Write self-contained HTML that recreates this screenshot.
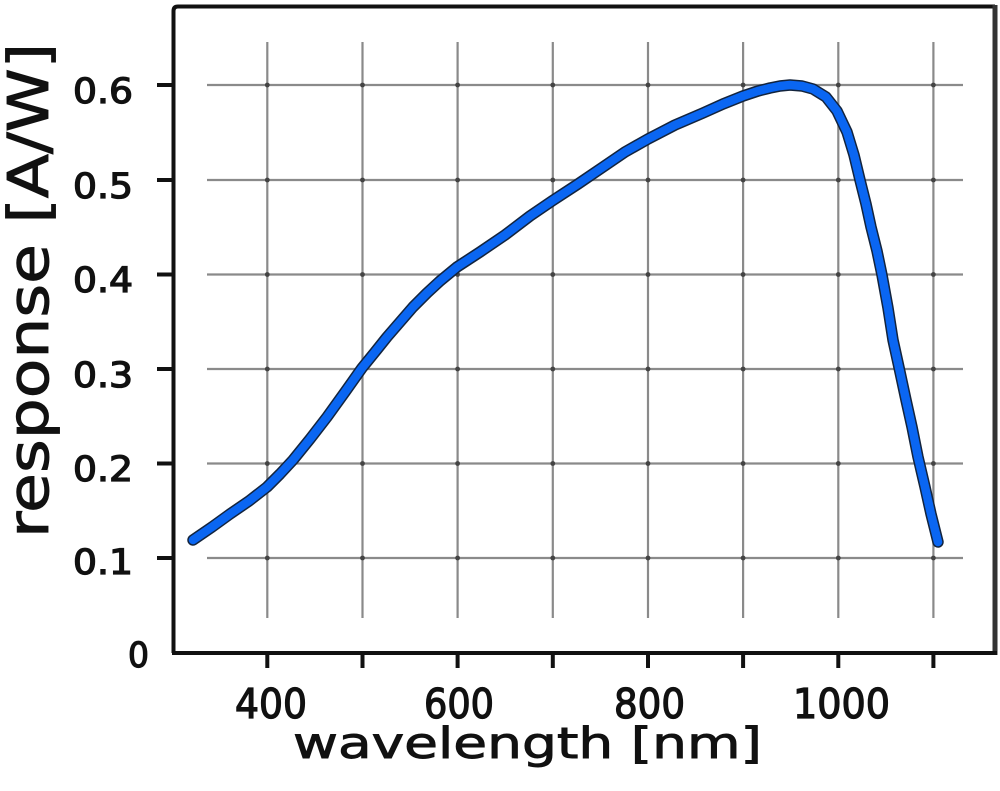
<!DOCTYPE html>
<html>
<head>
<meta charset="utf-8">
<style>
html,body{margin:0;padding:0;background:#fff;}
svg{display:block;}
text{font-family:"DejaVu Sans","Liberation Sans",sans-serif;fill:#111;stroke:#111;}
</style>
</head>
<body>
<svg width="1000" height="791" viewBox="0 0 1000 791" xmlns="http://www.w3.org/2000/svg">
<rect x="0" y="0" width="1000" height="791" fill="#fff"/>
<!-- grid -->
<g stroke="#8a8a8a" stroke-width="2.2">
  <line x1="267.3" y1="42" x2="267.3" y2="618"/>
  <line x1="362.5" y1="42" x2="362.5" y2="618"/>
  <line x1="457.6" y1="42" x2="457.6" y2="618"/>
  <line x1="552.8" y1="42" x2="552.8" y2="618"/>
  <line x1="648" y1="42" x2="648" y2="618"/>
  <line x1="743.1" y1="42" x2="743.1" y2="618"/>
  <line x1="838.3" y1="42" x2="838.3" y2="618"/>
  <line x1="933.4" y1="42" x2="933.4" y2="618"/>
  <line x1="207" y1="85" x2="963" y2="85"/>
  <line x1="207" y1="180" x2="963" y2="180"/>
  <line x1="207" y1="274.5" x2="963" y2="274.5"/>
  <line x1="207" y1="369" x2="963" y2="369"/>
  <line x1="207" y1="463.5" x2="963" y2="463.5"/>
  <line x1="207" y1="558" x2="963" y2="558"/>
</g>
<!-- intersection dots -->
<g fill="#444">
  <g id="row"><circle cx="267.3" cy="85" r="2.4"/><circle cx="362.5" cy="85" r="2.4"/><circle cx="457.6" cy="85" r="2.4"/><circle cx="552.8" cy="85" r="2.4"/><circle cx="648" cy="85" r="2.4"/><circle cx="743.1" cy="85" r="2.4"/><circle cx="838.3" cy="85" r="2.4"/><circle cx="933.4" cy="85" r="2.4"/></g>
  <use href="#row" y="95"/>
  <use href="#row" y="189.5"/>
  <use href="#row" y="284"/>
  <use href="#row" y="378.5"/>
  <use href="#row" y="473"/>
</g>
<!-- frame -->
<path d="M173.5,653 L173.5,11 Q173.5,6.5 178,6.5 L995,6.5" fill="none" stroke="#111" stroke-width="4"/>
<line x1="995" y1="5" x2="995" y2="655" stroke="#333" stroke-width="5"/>
<line x1="172" y1="653" x2="997" y2="653" stroke="#111" stroke-width="4"/>
<!-- y ticks -->
<g stroke="#111" stroke-width="4">
  <line x1="157" y1="85" x2="174" y2="85"/>
  <line x1="157" y1="180" x2="174" y2="180"/>
  <line x1="157" y1="274.5" x2="174" y2="274.5"/>
  <line x1="157" y1="369" x2="174" y2="369"/>
  <line x1="157" y1="463.5" x2="174" y2="463.5"/>
  <line x1="157" y1="558" x2="174" y2="558"/>
</g>
<!-- x ticks -->
<g stroke="#111" stroke-width="4">
  <line x1="267.3" y1="652" x2="267.3" y2="668"/>
  <line x1="362.5" y1="652" x2="362.5" y2="668"/>
  <line x1="457.6" y1="652" x2="457.6" y2="668"/>
  <line x1="552.8" y1="652" x2="552.8" y2="668"/>
  <line x1="648" y1="652" x2="648" y2="668"/>
  <line x1="743.1" y1="652" x2="743.1" y2="668"/>
  <line x1="838.3" y1="652" x2="838.3" y2="668"/>
  <line x1="933.4" y1="652" x2="933.4" y2="668"/>
</g>
<!-- y tick labels -->
<g font-size="35" stroke-width="1.3">
  <text x="73" y="103" textLength="60" lengthAdjust="spacingAndGlyphs">0.6</text>
  <text x="73" y="198" textLength="60" lengthAdjust="spacingAndGlyphs">0.5</text>
  <text x="73" y="292" textLength="60" lengthAdjust="spacingAndGlyphs">0.4</text>
  <text x="73" y="387" textLength="60" lengthAdjust="spacingAndGlyphs">0.3</text>
  <text x="73" y="481" textLength="60" lengthAdjust="spacingAndGlyphs">0.2</text>
  <text x="73" y="574" textLength="60" lengthAdjust="spacingAndGlyphs">0.1</text>
  <text x="128" y="667" textLength="21" lengthAdjust="spacingAndGlyphs">0</text>
</g>
<!-- x tick labels -->
<g font-size="41" stroke-width="1.3">
  <text x="235" y="718" textLength="72" lengthAdjust="spacingAndGlyphs">400</text>
  <text x="424" y="718" textLength="70" lengthAdjust="spacingAndGlyphs">600</text>
  <text x="614" y="718" textLength="71" lengthAdjust="spacingAndGlyphs">800</text>
  <text x="793" y="718" textLength="97" lengthAdjust="spacingAndGlyphs">1000</text>
</g>
<!-- axis titles -->
<text x="293" y="758" font-size="43" stroke-width="0.9" textLength="469" lengthAdjust="spacingAndGlyphs">wavelength [nm]</text>
<text transform="translate(48,538) rotate(-90)" x="0" y="0" font-size="56" stroke-width="0.9" textLength="495" lengthAdjust="spacingAndGlyphs">response [A/W]</text>
<!-- curve -->
<g fill="none" stroke-linejoin="round" stroke-linecap="round">
<polyline stroke="#13243d" stroke-width="11.5" points="193,540 212,527 230,514 249,501 267,487 280,474 293,460 310,439 327,417 345,392 362,368 375,352 387,337 400,322 413,307 427,293 440,281 457,267 480,252 505,235 530,216 552,201 578,184 603,167 625,152 648,139 675,125 703,113 723,104 743,96 758,91 770,88 780,86 790,85 802,86 813,89 826,97 837,111 847,132 854,155 860,180 866,204 871,227 877,251 882,275 888,308 893,340 900,372 906,400 912,427 918,457 925,487 931,514 938,542"/>
<polyline stroke="#0a66f2" stroke-width="8.5" points="193,540 212,527 230,514 249,501 267,487 280,474 293,460 310,439 327,417 345,392 362,368 375,352 387,337 400,322 413,307 427,293 440,281 457,267 480,252 505,235 530,216 552,201 578,184 603,167 625,152 648,139 675,125 703,113 723,104 743,96 758,91 770,88 780,86 790,85 802,86 813,89 826,97 837,111 847,132 854,155 860,180 866,204 871,227 877,251 882,275 888,308 893,340 900,372 906,400 912,427 918,457 925,487 931,514 938,542"/>
</g>
</svg>
</body>
</html>
